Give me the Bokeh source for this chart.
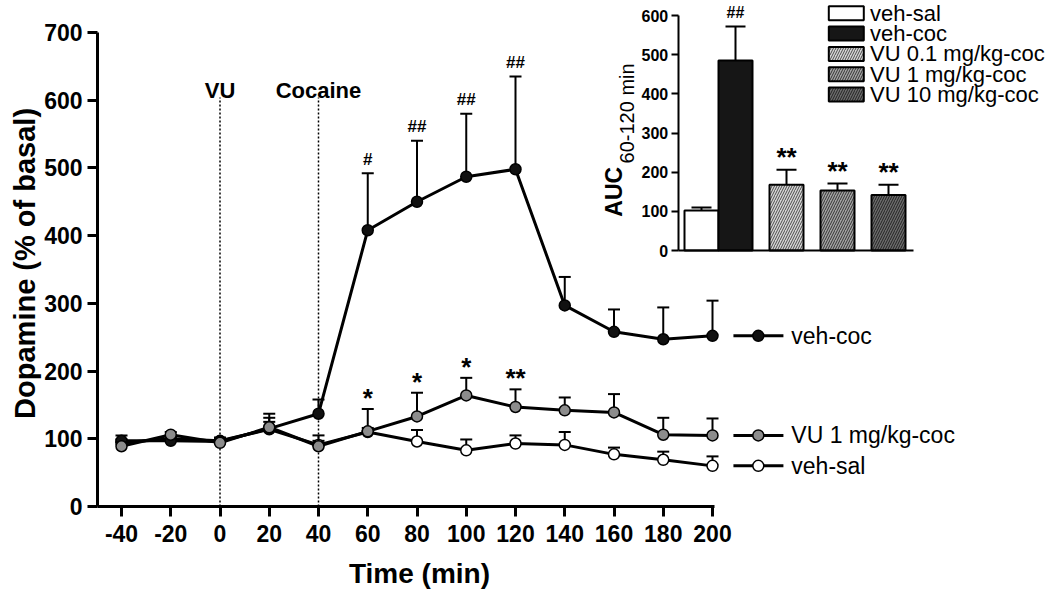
import math
from bokeh.plotting import figure
from bokeh.models import Range1d, LinearAxis, FixedTicker, ColumnDataSource
from bokeh.core.properties import value
from bokeh.embed import file_html
from bokeh.resources import INLINE

# ---------------- data ----------------
time = [-40, -20, 0, 20, 40, 60, 80, 100, 120, 140, 160, 180, 200]
veh_coc = [97, 97, 96, 115, 137, 408, 450, 487, 498, 297, 258, 247, 252]
veh_coc_sem = [8, 4, 6, 22, 21, 84, 90, 93, 137, 42, 33, 47, 52]
vu1_coc = [89, 106, 94, 117, 89, 111, 133, 164, 147, 142, 139, 106, 105]
vu1_coc_sem = [6, 4, 5, 14, 16, 33, 35, 26, 26, 19, 27, 25, 25]
veh_sal = [94, 100, 97, 114, 91, 110, 96, 83, 93, 91, 77, 69, 60]
veh_sal_sem = [5, 4, 4, 11, 6, 6, 17, 16, 12, 19, 10, 12, 14]

hash_times = [60, 80, 100, 120]
hash_marks = ["#", "##", "##", "##"]
star_times = [60, 80, 100, 120]
star_marks = ["*", "*", "*", "**"]

inj_times = [0, 40]
inj_labels = ["VU", "Cocaine"]

x_ticks = [-40, -20, 0, 20, 40, 60, 80, 100, 120, 140, 160, 180, 200]
y_ticks = [0, 100, 200, 300, 400, 500, 600, 700]

auc_groups = ["veh-sal", "veh-coc", "VU 0.1 mg/kg-coc", "VU 1 mg/kg-coc", "VU 10 mg/kg-coc"]
auc_values = [102, 485, 168, 153, 142]
auc_sem = [8, 87, 38, 18, 26]
auc_marks = ["", "##", "**", "**", "**"]
auc_ticks = [0, 100, 200, 300, 400, 500, 600]

# ---------------- layout / style ----------------
FONT = value("Liberation Sans")
W, H = 1050, 589
XS = 2.4625            # px per minute
YS = 474.0 / 700.0     # px per % unit
X0 = -40 - 121 / XS
X1 = X0 + W / XS
Y1 = 506 / YS
Y0 = -(H - 506) / YS

IS = 34.0              # px per inset slot
AS = 235.0 / 600.0     # px per AUC unit
IX0 = -701 / IS
IX1 = IX0 + W / IS
IA1 = 250 / AS
IA0 = -(H - 250) / AS

auc_x = [0, 1, 2.5, 4, 5.5]
auc_fill = ["white", "#161616", "#d6d6d6", "#a4a4a4", "#6c6c6c"]
auc_hatch = [" ", " ", "/", "/", "/"]
auc_hatch_color = ["black", "black", "#4a4a4a", "#333333", "#222222"]
auc_mark_size = ["16px" if m.startswith("#") else "26px" for m in auc_marks]
auc_mark_off = [-14 if m.startswith("#") else -13 for m in auc_marks]

p = figure(width=W, height=H, output_backend="svg", toolbar_location=None,
           x_range=Range1d(X0, X1), y_range=Range1d(Y0, Y1),
           x_axis_type=None, y_axis_type=None, min_border=0,
           outline_line_color=None, background_fill_color="white")
p.grid.visible = False
p.extra_x_ranges = {"ix": Range1d(IX0, IX1)}
p.extra_y_ranges = {"auc": Range1d(IA0, IA1)}


def style_axis(ax, lw, tick_out, fs, standoff):
    ax.axis_line_width = lw
    ax.axis_line_color = "black"
    ax.major_tick_line_width = lw
    ax.major_tick_line_color = "black"
    ax.major_tick_out = tick_out
    ax.major_tick_in = 0
    ax.minor_tick_line_color = None
    ax.major_label_text_font = "Liberation Sans"
    ax.major_label_text_font_style = "bold"
    ax.major_label_text_font_size = fs
    ax.major_label_text_color = "black"
    ax.major_label_standoff = standoff


# main axes
x_left = -40 - 24 / XS
ya = LinearAxis(fixed_location=x_left, bounds=(0, 700),
                ticker=FixedTicker(ticks=y_ticks, minor_ticks=[]))
style_axis(ya, 3, 10, "23px", 5)
p.add_layout(ya, "left")
xa = LinearAxis(fixed_location=0, bounds=(x_left, 201),
                ticker=FixedTicker(ticks=x_ticks, minor_ticks=[]))
style_axis(xa, 3, 10, "23px", 8)
xa.major_label_overrides = {t: str(t) for t in x_ticks if t < 0}
p.add_layout(xa, "below")

# inset axes
ia_left = (677.7 - 701) / IS
iya = LinearAxis(x_range_name="ix", y_range_name="auc", fixed_location=ia_left,
                 bounds=(0, 600), ticker=FixedTicker(ticks=auc_ticks, minor_ticks=[]))
style_axis(iya, 2, 7, "16px", 3)
p.add_layout(iya, "left")
ixa = LinearAxis(x_range_name="ix", y_range_name="auc", fixed_location=0,
                 bounds=(ia_left, (913 - 701) / IS),
                 ticker=FixedTicker(ticks=[], minor_ticks=[]))
style_axis(ixa, 2, 0, "0px", 0)
p.add_layout(ixa, "below")

# injection markers
p.segment(x0=inj_times, x1=inj_times, y0=0, y1=604, line_color="black",
          line_width=1.5, line_dash="2 2")
p.text(x=inj_times, y=[614] * len(inj_times), text=inj_labels, text_font=FONT,
       text_font_style="bold", text_font_size="22px", text_align="center",
       text_baseline="alphabetic", text_color="black")

# series
series = [
    ("veh-sal", veh_sal, veh_sal_sem, "white"),
    ("veh-coc", veh_coc, veh_coc_sem, "#111111"),
    ("VU 1 mg/kg-coc", vu1_coc, vu1_coc_sem, "#8c8c8c"),
]
for name, ys, sem, col in series:
    top = [a + b for a, b in zip(ys, sem)]
    p.segment(x0=time, x1=time, y0=ys, y1=top, line_color="black", line_width=2)
    p.scatter(x=time, y=top, marker="dash", size=12, line_color="black", line_width=2)
    p.line(x=time, y=ys, line_color="black", line_width=3)
    p.scatter(x=time, y=ys, marker="circle", size=11, fill_color=col,
              line_color="black", line_width=1.5)

# significance marks
coc_top = {t: a + b for t, a, b in zip(time, veh_coc, veh_coc_sem)}
vu_top = {t: a + b for t, a, b in zip(time, vu1_coc, vu1_coc_sem)}
p.text(x=hash_times, y=[coc_top[t] for t in hash_times], text=hash_marks,
       text_font=FONT, text_font_style="bold", text_font_size="17px",
       text_align="center", text_baseline="middle", y_offset=-14, text_color="black")
p.text(x=star_times, y=[vu_top[t] for t in star_times], text=star_marks,
       text_font=FONT, text_font_style="bold", text_font_size="26px",
       text_align="center", text_baseline="middle", y_offset=-11, text_color="black")

# right-hand legend, aligned with the last value of each series
leg_y = [s[1][-1] for s in series]
leg_names = [s[0] for s in series]
leg_cols = [s[3] for s in series]
LX0, LX1, LXM, LXT = 208.5, 228.8, 218.6, 232.0
p.segment(x0=[LX0] * 3, x1=[LX1] * 3, y0=leg_y, y1=leg_y, line_color="black", line_width=3)
p.scatter(x=[LXM] * 3, y=leg_y, marker="circle", size=11, fill_color=leg_cols,
          line_color="black", line_width=1.5)
p.text(x=[LXT] * 3, y=leg_y, text=leg_names, text_font=FONT, text_font_size="23px",
       text_align="left", text_baseline="middle", text_color="black")

# axis titles
p.text(x=[-79.0], y=[359.0], text=["Dopamine (% of basal)"], angle=math.pi / 2,
       text_font=FONT, text_font_style="bold", text_font_size="29px",
       text_align="center", text_baseline="middle", text_color="black")
p.text(x=[81.0], y=[-99.0], text=["Time (min)"], text_font=FONT,
       text_font_style="bold", text_font_size="28px", text_align="center",
       text_baseline="alphabetic", text_color="black")

# ---------------- inset AUC bars ----------------
bsrc = ColumnDataSource(dict(x=auc_x, top=auc_values, fill=auc_fill,
                             hatch=auc_hatch, hc=auc_hatch_color,
                             etop=[a + b for a, b in zip(auc_values, auc_sem)],
                             mark=auc_marks, fs=auc_mark_size, off=auc_mark_off))
p.segment(x0="x", x1="x", y0="top", y1="etop", source=bsrc, line_color="black",
          line_width=2, x_range_name="ix", y_range_name="auc")
p.scatter(x="x", y="etop", source=bsrc, marker="dash", size=20, line_color="black",
          line_width=2, x_range_name="ix", y_range_name="auc")
p.vbar(x="x", top="top", bottom=0, width=1, source=bsrc, fill_color="fill",
       hatch_pattern="hatch", hatch_color="hc", hatch_scale=5, hatch_weight=1,
       line_color="black", line_width=2, x_range_name="ix", y_range_name="auc")
p.text(x="x", y="etop", text="mark", source=bsrc, text_font=FONT,
       text_font_style="bold", text_font_size="fs", text_align="center",
       text_baseline="middle", y_offset="off", text_color="black",
       x_range_name="ix", y_range_name="auc")

# inset legend
LEG_TOP, LEG_STEP = 606.0, 52.0
rows = [LEG_TOP - i * LEG_STEP for i in range(len(auc_groups))]
lsrc = ColumnDataSource(dict(y=rows, fill=auc_fill, hatch=auc_hatch, hc=auc_hatch_color,
                             name=auc_groups))
p.rect(x=(845.8 - 701) / IS, y="y", width=35, height=14, width_units="screen",
       height_units="screen", source=lsrc, fill_color="fill", hatch_pattern="hatch",
       hatch_color="hc", hatch_scale=5, hatch_weight=1, line_color="black",
       line_width=2, x_range_name="ix", y_range_name="auc")
p.text(x=(869.5 - 701) / IS, y="y", text="name", source=lsrc, text_font=FONT,
       text_font_size="22px", text_align="left", text_baseline="middle",
       text_color="black", x_range_name="ix", y_range_name="auc")

# inset axis title
p.text(x=[(613 - 701) / IS], y=[150.0], text=["AUC"], angle=math.pi / 2,
       text_font=FONT, text_font_style="bold", text_font_size="23px",
       text_align="center", text_baseline="middle", text_color="black",
       x_range_name="ix", y_range_name="auc")
p.text(x=[(626 - 701) / IS], y=[350.0], text=["60-120 min"], angle=math.pi / 2,
       text_font=FONT, text_font_size="20px", text_align="center",
       text_baseline="middle", text_color="black",
       x_range_name="ix", y_range_name="auc")

open("out.html", "w").write(file_html(p, INLINE))
